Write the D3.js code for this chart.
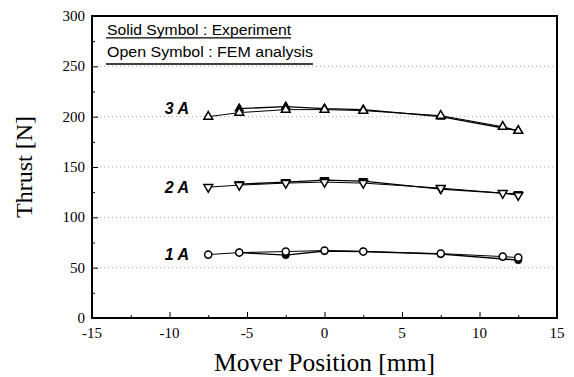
<!DOCTYPE html>
<html>
<head>
<meta charset="utf-8">
<script src="https://cdn.jsdelivr.net/npm/d3@7"></script>
<style>
  html, body { margin: 0; padding: 0; background: #fff; }
  svg { display: block; }
</style>
</head>
<body>
<svg id="chart" width="574" height="377"></svg>
<script>
// Mover positions [mm] where thrust was evaluated
const femPositions = [-7.5, -5.5, -2.5, 0, 2.5, 7.5, 11.5, 12.5];
const expPositions = [-5.5, -2.5, 0, 2.5, 7.5, 12.5];

// FEM analysis thrust [N] (open symbols)
const fem1A = [63, 65, 66, 67, 66, 64, 61, 60];
const fem2A = [130, 132, 134, 135, 134, 129, 124, 122];
const fem3A = [200, 204, 207, 207, 206, 201, 190, 186];

// Experimental thrust [N] (solid symbols)
const exp1A = [65, 62.5, 66.5, 66, 63.5, 57.5];
const exp2A = [133, 135, 137, 136, 128, 123];
const exp3A = [208, 210, 208, 207, 200, 186];

const currentLabels = ["1 A", "2 A", "3 A"];
const labelBaselines = [57.5, 124.5, 202.5];
const symbolKinds = ["circle", "down", "up"];

const xTicks = [-15, -10, -5, 0, 5, 10, 15];
const yTicks = [0, 50, 100, 150, 200, 250, 300];

const svg = d3.select("#chart");
const L = 92, R = 557, T = 16, B = 318;

const x = d3.scaleLinear().domain([-15, 15]).range([L, R]);
const y = d3.scaleLinear().domain([0, 300]).range([B, T]);

// dotted horizontal grid
svg.append("g").selectAll("line")
  .data(yTicks.filter(v => v > 0 && v < 300))
  .join("line")
  .attr("x1", L).attr("x2", R)
  .attr("y1", d => y(d)).attr("y2", d => y(d))
  .attr("stroke", "#aaa").attr("stroke-width", 1)
  .attr("stroke-dasharray", "1,3");

// inward ticks (major + minor)
const xAxisB = d3.axisBottom(x).tickValues(d3.range(-15, 15.01, 2.5))
  .tickSizeInner(-5).tickSizeOuter(0).tickFormat("");
const yAxisL = d3.axisLeft(y).tickValues(d3.range(0, 300.1, 25))
  .tickSizeInner(-5).tickSizeOuter(0).tickFormat("");
const gx = svg.append("g").attr("transform", `translate(0,${B})`).call(xAxisB);
const gy = svg.append("g").attr("transform", `translate(${L},0)`).call(yAxisL);
gx.selectAll(".tick line").attr("y2", (d) => (d % 5 === 0 ? -6 : -3)).attr("stroke", "#000");
gy.selectAll(".tick line").attr("x2", (d) => (d % 50 === 0 ? 6 : 3)).attr("stroke", "#000");
gx.select(".domain").remove();
gy.select(".domain").remove();

// frame
svg.append("rect").attr("x", L).attr("y", T).attr("width", R - L).attr("height", B - T)
  .attr("fill", "none").attr("stroke", "#000").attr("stroke-width", 2);

// tick labels
const serif = "'Liberation Serif', 'Times New Roman', serif";
svg.append("g").selectAll("text").data(xTicks).join("text")
  .attr("x", d => x(d)).attr("y", B + 20)
  .attr("text-anchor", "middle")
  .attr("font-family", serif).attr("font-size", 15)
  .text(d => d);
svg.append("g").selectAll("text").data(yTicks).join("text")
  .attr("x", L - 7).attr("y", d => y(d) + 5)
  .attr("text-anchor", "end")
  .attr("font-family", serif).attr("font-size", 15)
  .text(d => d);

// axis titles
svg.append("text")
  .attr("x", (L + R) / 2).attr("y", 371)
  .attr("text-anchor", "middle")
  .attr("font-family", serif).attr("font-size", 25.5)
  .text("Mover Position [mm]");
svg.append("text")
  .attr("transform", `translate(32,${(T + B) / 2}) rotate(-90)`)
  .attr("text-anchor", "middle")
  .attr("font-family", serif).attr("font-size", 24)
  .text("Thrust [N]");

// legend notes
const sans = "'Liberation Sans', Arial, sans-serif";
const notes = ["Solid Symbol : Experiment", "Open Symbol : FEM analysis"];
const noteWidths = [184, 206];
const noteBase = [35, 56.5];
const noteRule = [37.8, 64];
notes.forEach((t, i) => {
  svg.append("text")
    .attr("x", 107).attr("y", noteBase[i])
    .attr("font-family", sans).attr("font-size", 14)
    .attr("textLength", noteWidths[i]).attr("lengthAdjust", "spacingAndGlyphs")
    .text(t);
  svg.append("line")
    .attr("x1", 106).attr("x2", 107 + noteWidths[i])
    .attr("y1", noteRule[i]).attr("y2", noteRule[i])
    .attr("stroke", "#000").attr("stroke-width", 1.3);
});

const line = d3.line().x(d => x(d[0])).y(d => y(d[1]));

const femSets = [fem1A, fem2A, fem3A];
const expSets = [exp1A, exp2A, exp3A];

function symbolPath(kind, size) {
  if (kind === "circle") return d3.symbol(d3.symbolCircle, size)();
  return d3.symbol(d3.symbolTriangle, size)();
}

femSets.forEach((vals, i) => {
  const fem = femPositions.map((p, j) => [p, vals[j]]);
  const exp = expPositions.map((p, j) => [p, expSets[i][j]]);
  const kind = symbolKinds[i];
  const size = kind === "circle" ? 40 : 34;
  const rot = kind === "down" ? 180 : 0;

  svg.append("path").datum(fem).attr("d", line)
    .attr("fill", "none").attr("stroke", "#000").attr("stroke-width", 1);
  svg.append("path").datum(exp).attr("d", line)
    .attr("fill", "none").attr("stroke", "#000").attr("stroke-width", 1.4);

  // solid symbols
  svg.append("g").selectAll("path").data(exp).join("path")
    .attr("d", symbolPath(kind, size))
    .attr("transform", d => `translate(${x(d[0])},${y(d[1])}) rotate(${rot})`)
    .attr("fill", "#000").attr("stroke", "#000").attr("stroke-width", 1);

  // open symbols
  svg.append("g").selectAll("path").data(fem).join("path")
    .attr("d", symbolPath(kind, size))
    .attr("transform", d => `translate(${x(d[0])},${y(d[1])}) rotate(${rot})`)
    .attr("fill", "#fff").attr("stroke", "#000").attr("stroke-width", 1.5);

  // current label
  svg.append("text")
    .attr("x", 189).attr("y", y(labelBaselines[i]))
    .attr("text-anchor", "end")
    .attr("font-family", sans)
    .attr("font-weight", "bold").attr("font-style", "italic")
    .attr("font-size", 16)
    .text(currentLabels[i]);
});
</script>
</body>
</html>
